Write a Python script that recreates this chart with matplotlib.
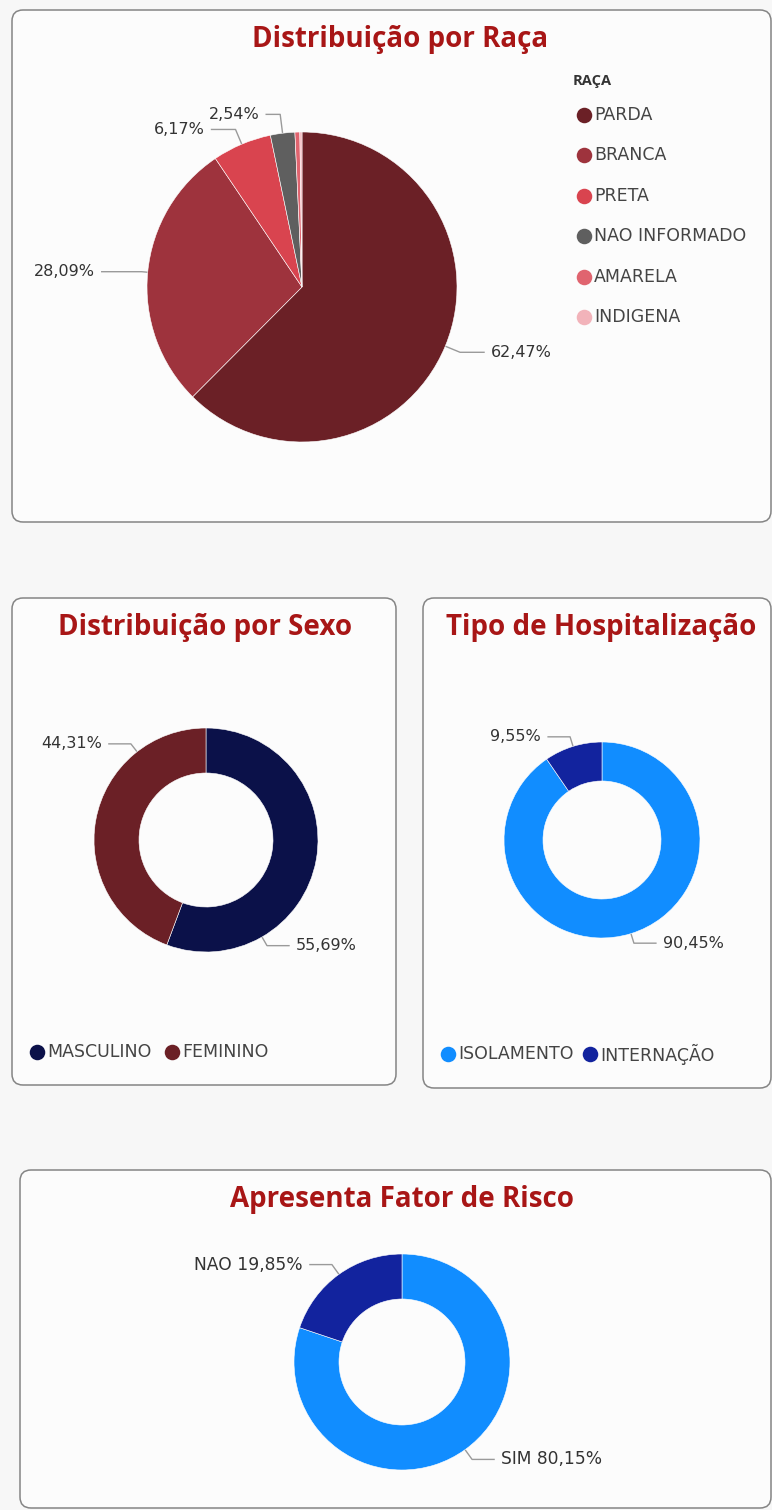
import matplotlib
matplotlib.use("Agg")
import matplotlib.pyplot as plt
import numpy as np
from matplotlib.patches import FancyBboxPatch

# ---------------- data ----------------
raca_labels = ["PARDA", "BRANCA", "PRETA", "NAO INFORMADO", "AMARELA", "INDIGENA"]
raca_values = [62.47, 28.09, 6.17, 2.54, 0.51, 0.22]
raca_colors = ["#6b2026", "#9e333d", "#d9444f", "#5f5f5f", "#e0646f", "#f2b3ba"]

sexo_labels = ["MASCULINO", "FEMININO"]
sexo_values = [55.69, 44.31]
sexo_colors = ["#0b1149", "#6b2026"]

hosp_labels = ["ISOLAMENTO", "INTERNAÇÃO"]
hosp_values = [90.45, 9.55]
hosp_colors = ["#118dff", "#12239e"]

risco_labels = ["SIM", "NAO"]
risco_values = [80.15, 19.85]
risco_colors = ["#118dff", "#12239e"]

# ---------------- figure ----------------
W, H = 772, 1510
TITLE_FONT = ["Open Sans", "DejaVu Sans"]
BODY_FONT = ["DejaVu Sans"]
plt.rcParams["font.family"] = BODY_FONT
fig = plt.figure(figsize=(W / 100, H / 100), dpi=100, facecolor="#f7f7f7")
bg = fig.add_axes([0, 0, 1, 1])
bg.set_xlim(0, W)
bg.set_ylim(H, 0)
bg.axis("off")
bg.set_zorder(0)

TITLE_C = "#a81616"
TXT_C = "#333333"
LINE_C = "#9a9a9a"
LABEL_FS = 11.5
LEGEND_FS = 12.5


def panel(x0, y0, x1, y1):
    p = FancyBboxPatch((x0, y0), x1 - x0, y1 - y0,
                       boxstyle="round,pad=0,rounding_size=11",
                       facecolor="#fcfcfc", edgecolor="#858585", linewidth=1.1)
    bg.add_patch(p)


def fmt(v):
    return f"{v:.2f}".replace(".", ",") + "%"


def pie_chart(values, colors, cx, cy, R, width=None):
    ax = fig.add_axes([(cx - R) / W, 1 - (cy + R) / H, 2 * R / W, 2 * R / H])
    wp = dict(edgecolor="#ffffff", linewidth=0.4)
    if width is not None:
        wp["width"] = width / R
    ax.pie(values, colors=colors, startangle=90, counterclock=False,
           radius=1, wedgeprops=wp)
    ax.set_xlim(-1, 1)
    ax.set_ylim(-1, 1)
    ax.set_aspect("equal")
    ax.axis("off")
    ax.set_zorder(1)
    return ax


def mid_angles(values):
    tot = sum(values)
    cum = np.cumsum([0] + list(values))
    return [90 - (cum[i] + values[i] / 2) / tot * 360 for i in range(len(values))]


def leader(cx, cy, R, ang, text, elbow=12, hlen=22, gap=7, fs=LABEL_FS):
    a = np.deg2rad(ang)
    ux, uy = np.cos(a), -np.sin(a)
    p0 = (cx + R * ux, cy + R * uy)
    p1 = (p0[0] + ux * elbow, p0[1] + uy * elbow)
    s = 1 if ux >= 0 else -1
    p2 = (p1[0] + s * hlen, p1[1])
    bg.plot([p0[0], p1[0], p2[0]], [p0[1], p1[1], p2[1]], color=LINE_C, lw=1.0, zorder=3)
    bg.text(p2[0] + s * gap, p2[1], text, ha="left" if s > 0 else "right",
            va="center", fontsize=fs, color=TXT_C, zorder=4)


def title(x, y, s):
    bg.text(x, y, s, ha="center", va="center", fontsize=20, fontweight="bold",
            color=TITLE_C, family=TITLE_FONT, zorder=4)


def legend_item(x, y, color, label):
    bg.scatter([x], [y], s=125, color=color, zorder=4, linewidths=0)
    bg.text(x + 10.5, y, label, ha="left", va="center", fontsize=LEGEND_FS,
            color="#444444", zorder=4)


# ---------------- panel 1: raça ----------------
panel(12, 10, 771, 522)
title(400, 40, "Distribuição por Raça")
cx, cy, R = 302, 287, 155
pie_chart(raca_values, raca_colors, cx, cy, R)
angs = mid_angles(raca_values)
elbows = [16, 6, 16, 19]
hlens = [24, 40, 24, 14]
for i in range(4):
    leader(cx, cy, R, angs[i], fmt(raca_values[i]), elbow=elbows[i], hlen=hlens[i])

bg.text(573, 81, "RAÇA", ha="left", va="center", fontsize=10.5,
        fontweight="bold", color="#333333", family=TITLE_FONT, zorder=4)
leg_y0, leg_dy = 115, 40.4
for i, (lab, col) in enumerate(zip(raca_labels, raca_colors)):
    legend_item(583.5, leg_y0 + i * leg_dy, col, lab)

# ---------------- panel 2: sexo ----------------
panel(12, 598, 396, 1085)
title(205, 628, "Distribuição por Sexo")
cx, cy, R = 206, 840, 112
pie_chart(sexo_values, sexo_colors, cx, cy, R, width=45)
sexo_label_angles = [-60, 128]
for i in range(2):
    leader(cx, cy, R, sexo_label_angles[i], fmt(sexo_values[i]), elbow=10)
legend_item(37, 1052, sexo_colors[0], sexo_labels[0])
legend_item(172, 1052, sexo_colors[1], sexo_labels[1])

# ---------------- panel 3: hospitalização ----------------
panel(423, 598, 771, 1088)
title(601, 628, "Tipo de Hospitalização")
cx, cy, R = 602, 840, 98
pie_chart(hosp_values, hosp_colors, cx, cy, R, width=39)
angs = mid_angles(hosp_values)
for i in range(2):
    leader(cx, cy, R, angs[i], fmt(hosp_values[i]), elbow=10)
legend_item(448, 1054, hosp_colors[0], hosp_labels[0])
legend_item(590, 1054, hosp_colors[1], hosp_labels[1])

# ---------------- panel 4: fator de risco ----------------
panel(20, 1170, 771, 1508)
title(402, 1200, "Apresenta Fator de Risco")
cx, cy, R = 402, 1362, 108
pie_chart(risco_values, risco_colors, cx, cy, R, width=45)
angs = mid_angles(risco_values)
for i in range(2):
    leader(cx, cy, R, angs[i], f"{risco_labels[i]} {fmt(risco_values[i])}",
           elbow=12, fs=12.3)

fig.savefig("out.png", dpi=100, facecolor=fig.get_facecolor())
